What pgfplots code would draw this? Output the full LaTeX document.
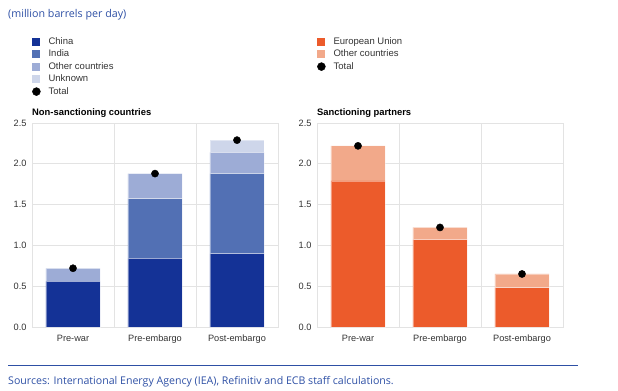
\documentclass[border=0pt]{standalone}
\usepackage{pgfplots}
\pgfplotsset{compat=1.18}
\usepackage{fontspec}
\setmainfont{Liberation Sans}
\newfontfamily\headfont{Open Sans}
\definecolor{cnblue}{HTML}{143296}
\definecolor{inblue}{HTML}{5270B4}
\definecolor{otblue}{HTML}{9DACD6}
\definecolor{unblue}{HTML}{CED6EA}
\definecolor{euor}{HTML}{EC5B2B}
\definecolor{otor}{HTML}{F2A98A}
\definecolor{ecbblue}{HTML}{2E50A5}
\definecolor{gridgrey}{HTML}{E3E3E3}
\pgfplotsset{
  sqleg/.style={legend image code/.code={\fill[##1, draw=none] (0bp,-4bp) rectangle (8bp,4bp);}},
  ecb/.style={
    scale only axis, width=246bp, height=204bp,
    xmin=-0.5, xmax=2.5, ymin=0, ymax=2.5,
    xtick={0,1,2}, xticklabels={Pre-war,Pre-embargo,Post-embargo},
    minor xtick={0.5,1.5}, minor x grid style={gridgrey, line width=0.8bp},
    xminorgrids=true, ymajorgrids=true,
    ytick={0,0.5,1,1.5,2,2.5},
    y tick label style={/pgf/number format/fixed, /pgf/number format/fixed zerofill, /pgf/number format/precision=1},
    /pgf/number format/assume math mode=true,
    major tick length=0pt, minor tick length=0pt,
    axis line style={gridgrey, line width=0.8bp},
    major grid style={gridgrey, line width=0.8bp},
    tick label style={font=\fontsize{9.2bp}{10bp}\selectfont, text=black!80},
    xticklabel style={yshift=-4.5bp},
    yticklabel style={xshift=-2bp},
    every axis title shift=0pt,
    title style={at={(rel axis cs:0,1)}, anchor=base west, yshift=8bp, inner sep=0pt, font=\bfseries\fontsize{9.4bp}{10bp}\selectfont},
    legend style={at={(rel axis cs:0,1)}, anchor=north west, yshift=86bp, draw=none, fill=none, inner sep=0pt,
      font=\fontsize{9.5bp}{10bp}\selectfont, text=black!80,
      nodes={inner sep=0pt, text height=6.8bp, text depth=2bp},
      row sep=3.7bp,
      /tikz/every even column/.append style={column sep=0bp},
      /tikz/every odd column/.append style={column sep=8bp}},
    legend cell align=left,
  },
  dots/.style={
    scale only axis, width=246bp, height=204bp,
    xmin=-0.5, xmax=2.5, ymin=0, ymax=2.5, hide axis,
  },
}
\begin{document}
\begin{tikzpicture}
\useasboundingbox (0,0) rectangle (618bp,-391bp);
\node[anchor=west, inner sep=0pt, text=ecbblue, font=\headfont\fontsize{10.7bp}{12bp}\selectfont] at (8bp,-15bp) {(million barrels per day)};
\draw[ecbblue, line width=1bp] (8bp,-365bp) -- (578bp,-365bp);
\node[anchor=west, inner sep=0pt, text=ecbblue, font=\headfont\fontsize{10.6bp}{12bp}\selectfont] at (8bp,-382bp) {Sources: International Energy Agency (IEA), Refinitiv and ECB staff calculations.};

% Left panel
\begin{axis}[ecb, at={(32bp,-327bp)}, anchor=south west, ybar stacked, bar width=0.66,
  title={Non-sanctioning countries}]
\addplot[sqleg, fill=cnblue, draw=white, draw opacity=0.4, line width=0.8bp] coordinates {(0,0.56) (1,0.84) (2,0.90)};
\addlegendentry{China}
\addplot[sqleg, fill=inblue, draw=white, draw opacity=0.4, line width=0.8bp] coordinates {(0,0) (1,0.73) (2,0.98)};
\addlegendentry{India}
\addplot[sqleg, fill=otblue, draw=white, draw opacity=0.4, line width=0.8bp] coordinates {(0,0.16) (1,0.31) (2,0.26)};
\addlegendentry{Other countries}
\addplot[sqleg, fill=unblue, draw=white, draw opacity=0.4, line width=0.8bp] coordinates {(0,0) (1,0) (2,0.15)};
\addlegendentry{Unknown}
\addlegendimage{legend image code/.code={\fill[black] (4bp,0bp) circle (4bp);}}
\addlegendentry{Total}
\end{axis}
\begin{axis}[dots, at={(32bp,-327bp)}, anchor=south west]
\addplot[only marks, mark=*, mark size=3.6bp, black] coordinates {(0,0.72) (1,1.88) (2,2.29)};
\end{axis}

% Right panel
\begin{axis}[ecb, at={(317bp,-327bp)}, anchor=south west, ybar stacked, bar width=0.66,
  title={Sanctioning partners}]
\addplot[sqleg, fill=euor, draw=white, draw opacity=0.4, line width=0.8bp] coordinates {(0,1.79) (1,1.07) (2,0.48)};
\addlegendentry{European Union}
\addplot[sqleg, fill=otor, draw=white, draw opacity=0.4, line width=0.8bp] coordinates {(0,0.43) (1,0.15) (2,0.17)};
\addlegendentry{Other countries}
\addlegendimage{legend image code/.code={\fill[black] (4bp,0bp) circle (4bp);}}
\addlegendentry{Total}
\end{axis}
\begin{axis}[dots, at={(317bp,-327bp)}, anchor=south west]
\addplot[only marks, mark=*, mark size=3.6bp, black] coordinates {(0,2.22) (1,1.22) (2,0.65)};
\end{axis}
\end{tikzpicture}
\end{document}
